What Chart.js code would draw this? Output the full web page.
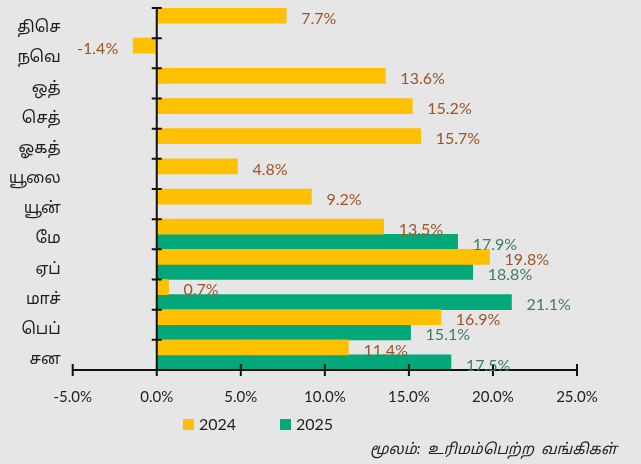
<!DOCTYPE html>
<html>
<head>
<meta charset="utf-8">
<script src="https://cdn.jsdelivr.net/npm/chart.js@4/dist/chart.umd.min.js"></script>
<style>
  html, body { margin: 0; padding: 0; background: #e6e6e6; }
  #wrap { width: 641px; height: 464px; }
</style>
</head>
<body>
<div id="wrap"><canvas id="myChart" width="641" height="464"></canvas></div>
<script>
// ── Data ──────────────────────────────────────────────────────────────────────
const months     = ["திசெ", "நவெ", "ஒத்", "செத்", "ஓகத்", "யூலை", "யூன்", "மே", "ஏப்", "மாச்", "பெப்", "சன"];
const growth2024 = [7.7, -1.4, 13.6, 15.2, 15.7, 4.8, 9.2, 13.5, 19.8, 0.7, 16.9, 11.4];
const growth2025 = [null, null, null, null, null, null, null, 17.9, 18.8, 21.1, 15.1, 17.5];
const xTicks     = [-5, 0, 5, 10, 15, 20, 25];
const seriesNames = ["2024", "2025"];
const sourceNote = "மூலம்:  உரிமம்பெற்ற  வங்கிகள்";

// ── Styles ────────────────────────────────────────────────────────────────────
const BAR_COLORS   = ["#ffc000", "#03a87a"];
const LABEL_COLORS = ["#9c5527", "#3d7c60"];
const FONT   = "Lato, 'Noto Sans Tamil', 'Lohit Tamil', 'Noto Sans', sans-serif";
const INK    = "#1e1e1e";

// ── Plugins ───────────────────────────────────────────────────────────────────
const bgPlugin = {
  id: "bg",
  beforeDraw(chart) {
    const c = chart.ctx;
    c.save();
    c.fillStyle = "#e6e6e6";
    c.fillRect(0, 0, chart.width, chart.height);
    c.restore();
  },
};

const axesPlugin = {
  id: "axes",
  afterDatasetsDraw(chart) {
    const c = chart.ctx, xs = chart.scales.x, ys = chart.scales.y, a = chart.chartArea;
    c.save();
    c.strokeStyle = "#111";
    c.lineWidth = 2;
    // y axis at x = 0 with ticks on category boundaries
    const x0 = xs.getPixelForValue(0);
    c.beginPath();
    c.moveTo(x0, a.top); c.lineTo(x0, a.bottom);
    const step = (a.bottom - a.top) / months.length;
    for (let i = 0; i < months.length; i++) {
      const y = ys.getPixelForValue(i) - step / 2;
      c.moveTo(x0 - 5, y); c.lineTo(x0 + 5, y);
    }
    // x axis with crossing ticks
    c.moveTo(xs.getPixelForValue(xTicks[0]), a.bottom);
    c.lineTo(xs.getPixelForValue(xTicks[xTicks.length - 1]), a.bottom);
    xTicks.forEach(v => {
      const x = xs.getPixelForValue(v);
      c.moveTo(x, a.bottom - 6); c.lineTo(x, a.bottom + 6);
    });
    c.stroke();
    c.restore();
  },
};

const valueLabels = {
  id: "valueLabels",
  afterDatasetsDraw(chart) {
    const c = chart.ctx;
    c.save();
    c.font = "16px " + FONT;
    c.textBaseline = "middle";
    chart.data.datasets.forEach((ds, di) => {
      const meta = chart.getDatasetMeta(di);
      c.fillStyle = LABEL_COLORS[di];
      meta.data.forEach((bar, i) => {
        const v = ds.data[i];
        if (v === null || v === undefined) return;
        const neg = v < 0;
        c.textAlign = neg ? "right" : "left";
        c.fillText(v.toFixed(1) + "%", bar.x + (neg ? -15 : 15), bar.y + 3);
      });
    });
    c.restore();
  },
};

const legendAndSource = {
  id: "legendAndSource",
  afterDraw(chart) {
    const c = chart.ctx;
    c.save();
    c.textBaseline = "middle";
    c.font = "16px " + FONT;
    const boxX = [183, 280];
    chart.data.datasets.forEach((ds, di) => {
      c.fillStyle = ds.backgroundColor;
      c.fillRect(boxX[di], 419, 11, 11);
      c.fillStyle = INK;
      c.textAlign = "left";
      c.fillText(ds.label, boxX[di] + 16, 425);
    });
    c.font = "italic 15px " + FONT;
    c.textAlign = "right";
    c.fillText(sourceNote, 617, 449);
    c.restore();
  },
};

// ── Chart ─────────────────────────────────────────────────────────────────────
new Chart(document.getElementById("myChart").getContext("2d"), {
  type: "bar",
  data: {
    labels: months,
    datasets: [
      { label: seriesNames[0], data: growth2024, backgroundColor: BAR_COLORS[0] },
      { label: seriesNames[1], data: growth2025, backgroundColor: BAR_COLORS[1] },
    ],
  },
  options: {
    indexAxis: "y",
    responsive: false,
    animation: false,
    devicePixelRatio: 1,
    categoryPercentage: 1.0,
    barPercentage: 1.0,
    layout: { padding: { left: 0, right: 64, top: 8, bottom: 0 } },
    plugins: { legend: { display: false }, tooltip: { enabled: false } },
    scales: {
      x: {
        min: -5, max: 25,
        afterBuildTicks: s => { s.ticks = xTicks.map(v => ({ value: v })); },
        afterFit: s => { s.height = 94; s.paddingLeft = 0; s.paddingRight = 0; },
        grid: { display: false },
        border: { display: false },
        ticks: {
          padding: 10,
          color: INK,
          font: { family: FONT, size: 15 },
          callback: v => v.toFixed(1) + "%",
          maxRotation: 0,
        },
      },
      y: {
        afterFit: s => { s.width = 72.7; s.paddingTop = 0; s.paddingBottom = 0; },
        grid: { display: false },
        border: { display: false },
        ticks: {
          padding: 4,
          labelOffset: 4,
          color: INK,
          font: { family: FONT, size: 16 },
        },
      },
    },
  },
  plugins: [bgPlugin, axesPlugin, valueLabels, legendAndSource],
});
</script>
</body>
</html>
